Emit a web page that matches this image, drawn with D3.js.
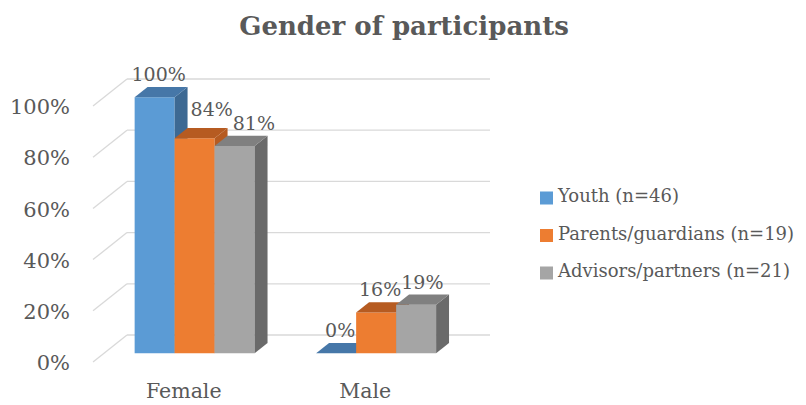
<!DOCTYPE html>
<meta charset="utf-8">
<style>
    body { margin: 0; background: #fff; }
    svg { font-family: "DejaVu Serif", serif; }
    .axis path, .axis line { display: none; }
    .axis text { fill: #595959; font-family: "DejaVu Serif", serif; }
</style>
<svg width="806" height="405"></svg>
<script src="https://d3js.org/d3.v7.min.js"></script>
<script>

    // data
    var categories = ["Female", "Male"];
    var series = ["Youth (n=46)", "Parents/guardians (n=19)", "Advisors/partners (n=21)"];
    var youth = [1.00, 0.00];
    var parents = [0.84, 0.16];
    var advisors = [0.81, 0.19];
    var yTicks = [0, 0.2, 0.4, 0.6, 0.8, 1.0];

    var values = [youth, parents, advisors];

    // front, top and side shades for each series
    var colors = [
        {front: "#5b9bd5", top: "#4677a8", side: "#3d6993"},
        {front: "#ed7d31", top: "#b65b21", side: "#b65b21"},
        {front: "#a5a5a5", top: "#808080", side: "#6a6a6a"}
    ];

    var svg = d3.select("svg");

    // back wall and the depth of the 3d box
    var wall = {left: 127, right: 490},
        depth = {dx: -34, dy: 27},
        barFront = 0.68, barBack = 0.30;

    var x = d3.scaleBand().domain(categories).range([wall.left, wall.right])
        .paddingInner(0.339).paddingOuter(0.1695);
    var xs = d3.scaleBand().domain(series).range([0, x.bandwidth()]);
    var y = d3.scaleLinear().domain([0, 1]).range([335, 79]);

    // project a point of the back wall towards the viewer
    function proj(px, v, t) {
        return [px + depth.dx * t, y(v) + depth.dy * t];
    }

    // gridlines: back wall and the left wall diagonals
    var grid = svg.append("g").attr("stroke", "#d9d9d9").attr("stroke-width", 1.3);
    yTicks.forEach(function(v) {
        grid.append("line")
            .attr("x1", wall.left).attr("x2", wall.right)
            .attr("y1", y(v)).attr("y2", y(v));
        var f = proj(wall.left, v, 1);
        grid.append("line")
            .attr("x1", f[0]).attr("y1", f[1])
            .attr("x2", wall.left).attr("y2", y(v));
    });

    // y axis labels along the front edge
    var yFront = d3.scaleLinear().domain([0, 1]).range([y(0) + depth.dy + 1, y(1) + depth.dy + 1]);
    svg.append("g")
        .attr("class", "axis")
        .attr("transform", "translate(" + (wall.left + depth.dx) + ",0)")
        .call(d3.axisLeft(yFront).tickValues(yTicks).tickFormat(d3.format(".0%")).tickSize(0).tickPadding(23))
        .selectAll("text").style("font-size", "21px");

    // category labels on the floor front
    svg.append("g")
        .attr("class", "axis")
        .attr("transform", "translate(" + depth.dx + "," + (y(0) + depth.dy) + ")")
        .call(d3.axisBottom(x).tickSize(0).tickPadding(21))
        .selectAll("text").style("font-size", "20.5px");

    // bars, left to right so each front hides the previous side
    var bars = svg.append("g");
    var labels = svg.append("g");
    categories.forEach(function(c, ci) {
        var prevBox = null, prevSide = null;
        series.forEach(function(s, si) {
            var v = values[si][ci];
            var x0 = x(c) + xs(s), x1 = x0 + xs.bandwidth();
            var fb0 = proj(x0, 0, barFront), fb1 = proj(x1, 0, barFront),
                ft0 = proj(x0, v, barFront), ft1 = proj(x1, v, barFront),
                bt0 = proj(x0, v, barBack), bt1 = proj(x1, v, barBack),
                bb1 = proj(x1, 0, barBack);
            var col = colors[si];
            if (v > 0) {
                bars.append("polygon")
                    .attr("points", [fb0, fb1, ft1, ft0].join(" "))
                    .attr("fill", col.front);
                bars.append("polygon")
                    .attr("points", [fb1, bb1, bt1, ft1].join(" "))
                    .attr("fill", col.side);
            }
            bars.append("polygon")
                .attr("points", [ft0, ft1, bt1, bt0].join(" "))
                .attr("fill", col.top);

            // value label above the bar, pushed right if it hits the
            // previous bar's side or the previous label
            var t = labels.append("text")
                .attr("y", ft0[1] - 16)
                .attr("fill", "#595959")
                .style("font-size", "19px")
                .text(d3.format(".0%")(v));
            var w = t.node().getComputedTextLength();
            var left = (ft0[0] + ft1[0]) / 2 + 4 - w / 2;
            var top = ft0[1] - 30, bottom = ft0[1] - 14;
            if (prevSide && bottom > prevSide.top && left < prevSide.right + 3) {
                left = prevSide.right + 3;
                if (prevSide.top < top) t.attr("y", ft0[1] - 22);
            }
            if (prevBox && bottom > prevBox.top && top < prevBox.bottom && left < prevBox.right) left = prevBox.right;
            t.attr("x", left);
            prevBox = {right: left + w, top: top, bottom: bottom};
            prevSide = {right: bt1[0], top: bt1[1]};
        });
    });

    // legend
    var legend = svg.append("g").attr("transform", "translate(540,198)");
    series.forEach(function(s, i) {
        var row = legend.append("g").attr("transform", "translate(0," + (i * 37.5) + ")");
        row.append("rect")
            .attr("x", 0).attr("y", -6.5)
            .attr("width", 13).attr("height", 13)
            .attr("fill", colors[i].front);
        row.append("text")
            .attr("x", 18).attr("y", 4)
            .attr("fill", "#595959")
            .style("font-size", "18px")
            .text(s);
    });

    // title
    svg.append("text")
        .attr("x", 404).attr("y", 35)
        .attr("text-anchor", "middle")
        .attr("fill", "#595959")
        .style("font-size", "26px")
        .style("font-weight", "bold")
        .text("Gender of participants");

</script>
